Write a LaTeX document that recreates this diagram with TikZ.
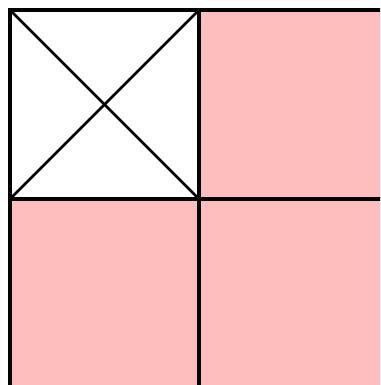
\documentclass[tikz,border=0pt]{standalone}
\definecolor{cellpink}{RGB}{255,190,190}
\begin{document}
\begin{tikzpicture}[x=0.75pt,y=-0.75pt,
  gridline/.style={draw=black,line width=2.3pt},
  pinkcell/.style={fill=cellpink},
  whitecell/.style={fill=white}]
\useasboundingbox (0,0) rectangle (380,385);
\clip (0,0) rectangle (380,385);
\coordinate (tl) at (10,10);
\coordinate (mid) at (199,199);
\fill[whitecell] (10,10) rectangle (199,199);
\fill[pinkcell] (199,10) rectangle (400,199);
\fill[pinkcell] (10,199) rectangle (199,400);
\fill[pinkcell] (199,199) rectangle (400,400);
\draw[gridline] (400,10) -- (10,10) -- (10,400);
\draw[gridline] (199,10) -- (199,400);
\draw[gridline] (10,199) -- (400,199);
\draw[gridline,line width=2pt] (tl) -- (mid);
\draw[gridline,line width=2pt] (199,10) -- (10,199);
\end{tikzpicture}
\end{document}
